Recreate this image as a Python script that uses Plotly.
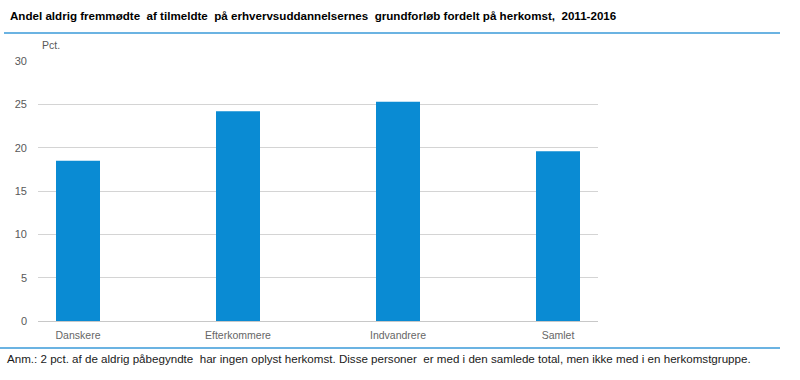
import plotly.graph_objects as go

categories = ["Danskere", "Efterkommere", "Indvandrere", "Samlet"]
values = [18.5, 24.2, 25.3, 19.6]
y_ticks = [0, 5, 10, 15, 20, 25, 30]

title = "Andel aldrig fremmødte  af tilmeldte  på erhvervsuddannelsernes  grundforløb fordelt på herkomst,  2011-2016"
note = "Anm.: 2 pct. af de aldrig påbegyndte  har ingen oplyst herkomst. Disse personer  er med i den samlede total, men ikke med i en herkomstgruppe."

FONT = "Liberation Sans, Arial, sans-serif"

fig = go.Figure(go.Bar(
    x=categories, y=values, marker_color="#0a8bd3", width=0.275,
    marker_line_width=0,
))

H = 260  # plot height px
W = 560  # plot width px
B = 59

fig.update_layout(
    width=800, height=380,
    margin=dict(l=38, r=202, t=61, b=B),
    paper_bgcolor="white", plot_bgcolor="white",
    showlegend=False,
    font=dict(family=FONT, color="#595959", size=11),
    xaxis=dict(range=[-0.25, 3.25], showgrid=False, showline=True,
               linecolor="#c8c8c8", linewidth=1, ticks="",
               tickfont=dict(size=10.5, color="#666666"), ticklabelstandoff=4),
    yaxis=dict(range=[0, 30], tickvals=y_ticks, showgrid=True,
               gridcolor="#d4d4d4", gridwidth=1, zeroline=False,
               showline=False, ticks="", ticklabelstandoff=10,
               tickfont=dict(size=11, color="#595959")),
    shapes=[
        dict(type="line", xref="paper", yref="paper", x0=-34/W, x1=742/W,
             y0=(380-B-33)/H, y1=(380-B-33)/H,
             line=dict(color="#3a9ad9", width=1.5)),
        dict(type="line", xref="paper", yref="paper", x0=-38/W, x1=742/W,
             y0=(380-B-348)/H, y1=(380-B-348)/H,
             line=dict(color="#3a9ad9", width=1.5)),
    ],
    annotations=[
        dict(text="<b>" + title + "</b>", xref="paper", yref="paper",
             x=-30/W, y=(380-B-16)/H, xanchor="left", yanchor="middle",
             showarrow=False, font=dict(size=11.6, color="#000000", family=FONT)),
        dict(text="Pct.", xref="paper", yref="paper",
             x=2/W, y=(380-B-45)/H, xanchor="left", yanchor="middle",
             showarrow=False, font=dict(size=10.5, color="#595959", family=FONT)),
        dict(text=note, xref="paper", yref="paper",
             x=-33/W, y=(380-B-358)/H, xanchor="left", yanchor="middle",
             showarrow=False, font=dict(size=11.6, color="#1a1a1a", family=FONT)),
    ],
)

fig.write_html("out.html", config={"displayModeBar": False},
               post_script="document.body.style.margin='0';")
